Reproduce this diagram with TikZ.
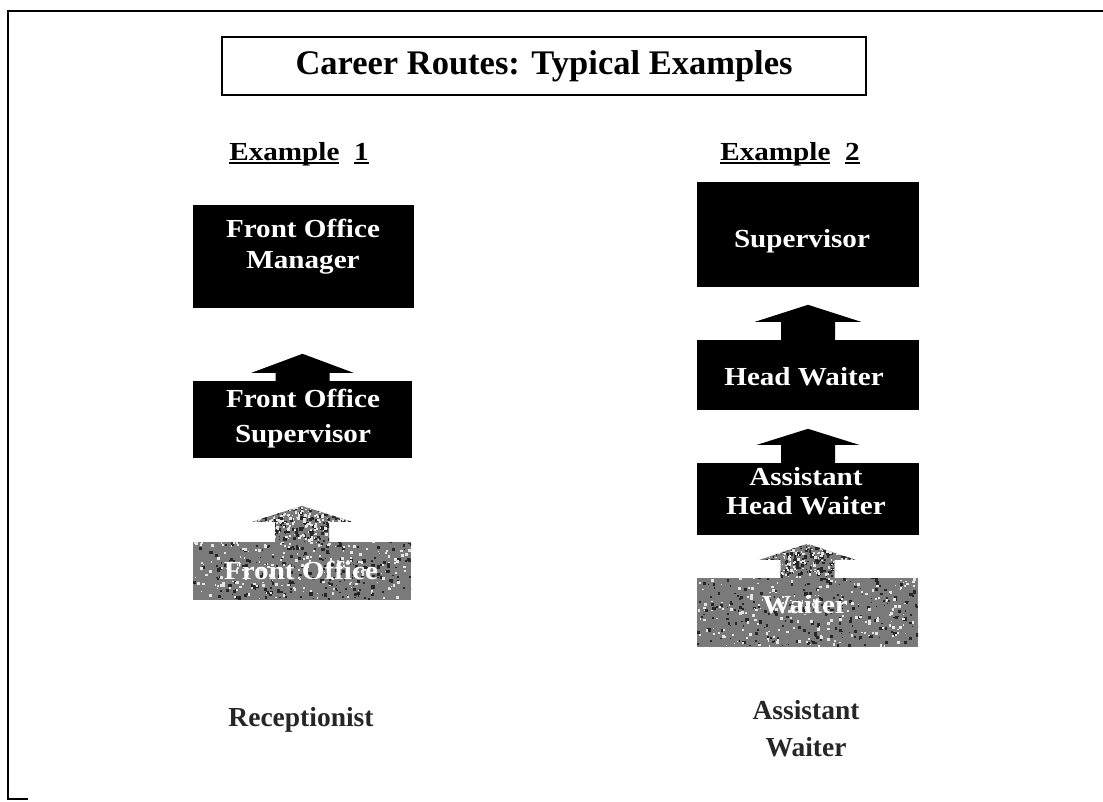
\documentclass[tikz,border=0pt]{standalone}
\usepackage{fontspec}
\setmainfont{Liberation Serif}
\newfontfamily\rungfont[FakeStretch=1.12]{Liberation Serif}
\usetikzlibrary{calc}

% thick underline used for the column headings
\newcommand\thickul[1]{\setbox0\hbox{#1}\rlap{\rule[-3.5pt]{\wd0}{1.8pt}}\box0}

% upward arrow standing on the top edge of a box:
% #1 box, #2 gap above the box, #3 head length, #4 head half-width, #5 fill style
\newcommand\riser[5]{%
  \fill[#5] ($(#1.north)+(-27,0)$) -- ++(0,-#2) -- ++(-#4+27,0)
    -- ($(#1.north)+(0,-#2-#3)$) -- ($(#1.north)+(#4,-#2)$)
    -- ++(-#4+27,0) -- ($(#1.north)+(27,0)$) -- cycle;}

\begin{document}
\begin{tikzpicture}[x=1pt,y=-1pt,
  frame/.style={draw=black, line width=1.4pt},
  titlebox/.style={draw=black, line width=1.5pt, fill=white, inner sep=0pt,
    font=\bfseries\fontsize{34.5}{40}\selectfont},
  heading/.style={anchor=base, inner sep=0pt,
    font=\rungfont\bfseries\fontsize{26}{31}\selectfont},
  rung/.style={fill=black, inner sep=0pt},
  grainy/.style={fill=black!52, inner sep=0pt, path picture={
    \path (path picture bounding box.south west) coordinate (gsw)
          (path picture bounding box.north east) coordinate (gne);
    \foreach \k in {1,...,230}{
      \pgfmathsetmacro\ga{rnd}\pgfmathsetmacro\gb{rnd}\pgfmathsetmacro\gs{1+2.5*rnd}
      \fill[black!85] let \p1=(gsw),\p2=(gne) in
        (\x1+\ga*\x2-\ga*\x1, \y1+\gb*\y2-\gb*\y1) rectangle ++(\gs pt,\gs pt);}
    \foreach \k in {1,...,200}{
      \pgfmathsetmacro\ga{rnd}\pgfmathsetmacro\gb{rnd}\pgfmathsetmacro\gs{1+2*rnd}
      \fill[white!80!gray] let \p1=(gsw),\p2=(gne) in
        (\x1+\ga*\x2-\ga*\x1, \y1+\gb*\y2-\gb*\y1) rectangle ++(\gs pt,\gs pt);}
  }},
  rungtext/.style={text=white, align=center, inner sep=0pt,
    font=\rungfont\bfseries\fontsize{26}{31}\selectfont},
  start/.style={text=black!85, align=center, inner sep=0pt,
    font=\bfseries\fontsize{27.5}{37}\selectfont}]
\pgfmathsetseed{4217}
\useasboundingbox (0,0) rectangle (1103,801);

% page frame (left and top edges)
\draw[frame] (28,799) -- (8,799) -- (8,11) -- (1103,11);

% title
\node[titlebox, minimum width=644pt, minimum height=58pt] (title) at (544,66)
  {Career Routes: Typical Examples};

% column headings
\node[heading] (ex1) at (299,160) {\thickul{Example}\ \ \thickul{1}};
\node[heading] (ex2) at (790,160) {\thickul{Example}\ \ \thickul{2}};

% Example 1 ladder
\node[rung, minimum width=221pt, minimum height=103pt] (fom) at (303.5,256.5) {};
\node[rung, minimum width=219pt, minimum height=77pt] (fos) at (302.5,419.5) {};
\node[grainy, minimum width=218pt, minimum height=58pt] (fo) at (302,571) {};
\riser{fos}{8}{19}{51}{black}
\riser{fo}{20}{16}{50}{grainy}
\node[rungtext] (fomt) at (303,247) {Front Office\\Manager};
\node[rungtext] (fost) at (303,419) {Front Office\\[4pt]Supervisor};
\node[rungtext] (fot) at (301,570) {Front Office};
\node[start, anchor=base] (rec) at (301,726) {Receptionist};

% Example 2 ladder
\node[rung, minimum width=222pt, minimum height=105pt] (sup) at (808,234.5) {};
\node[rung, minimum width=222pt, minimum height=70pt] (hw) at (808,375) {};
\node[rung, minimum width=222pt, minimum height=72pt] (ahw) at (808,499) {};
\node[grainy, minimum width=221pt, minimum height=69pt] (wt) at (807.5,612.5) {};
\riser{hw}{18}{17}{53}{black}
\riser{ahw}{18}{16}{51}{black}
\riser{wt}{18}{16}{48}{grainy}
\node[rungtext] (supt) at (802,241) {Supervisor};
\node[rungtext] (hwt) at (804,377) {Head Waiter};
\node[rungtext] (ahwt) at (806,491) {Assistant\\[-2pt]Head Waiter};
\node[rungtext] (wtt) at (805,605) {Waiter};
\node[start] (aw) at (806,729) {Assistant\\Waiter};
\end{tikzpicture}
\end{document}
